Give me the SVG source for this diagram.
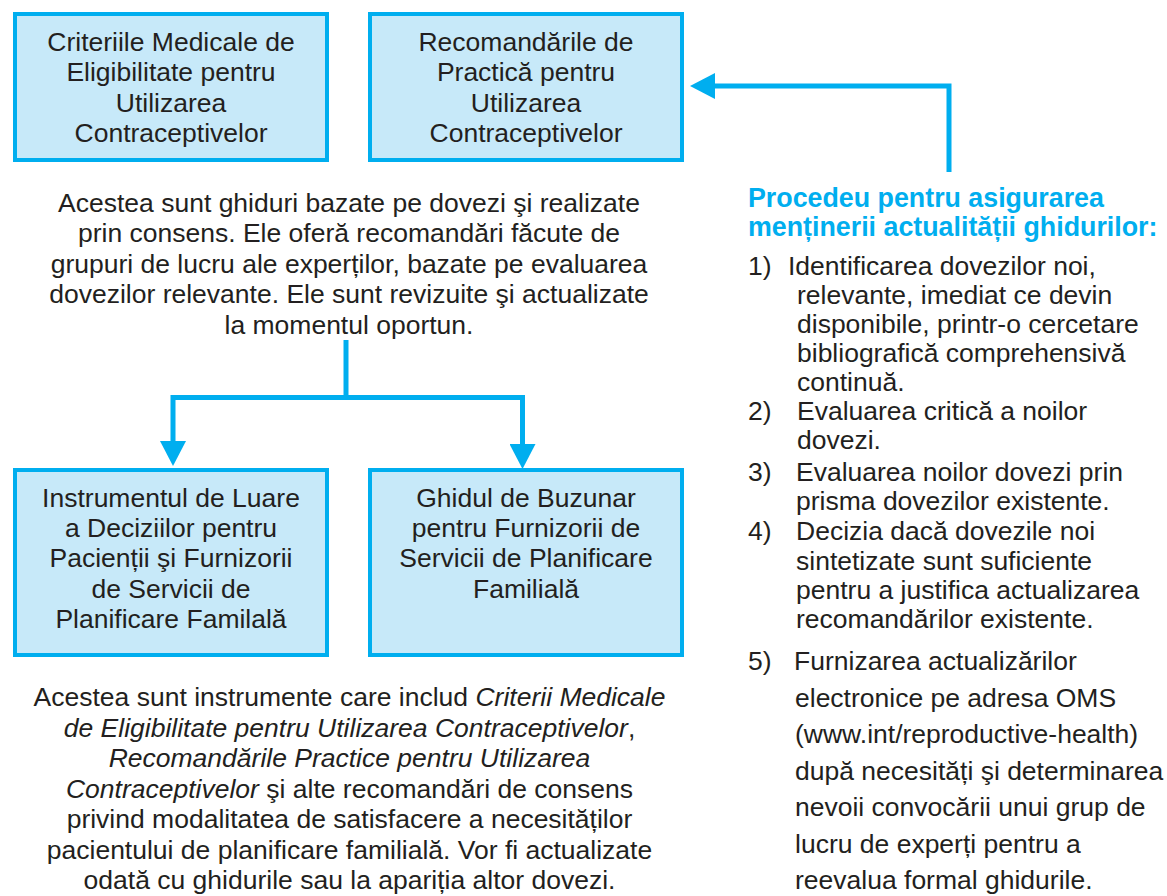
<svg xmlns="http://www.w3.org/2000/svg" width="1167" height="896" viewBox="0 0 1167 896">
<style>
.box{fill:#C7E9F9;stroke:#00AEEF;stroke-width:4}
.t{font-family:"Liberation Sans",Arial,sans-serif;font-size:26.5px;fill:#231F20}
.c{text-anchor:middle}
.i{font-style:italic}
.h{font-family:"Liberation Sans",Arial,sans-serif;font-size:26.8px;font-weight:bold;fill:#00AEEF}
.ln{fill:none;stroke:#00AEEF;stroke-width:5;stroke-linejoin:miter;stroke-linecap:butt}
</style>
<defs>
<marker id="ah" viewBox="0 0 25 26" refX="0" refY="13" markerWidth="25" markerHeight="26" markerUnits="userSpaceOnUse" orient="auto">
<path d="M0,0 L25,13 L0,26 z" fill="#00AEEF"/>
</marker>
</defs>
<g id="connectors">
<path class="ln" d="M949,172 V86 H715" marker-end="url(#ah)"/>
<path class="ln" d="M346,340 V397.5"/>
<path class="ln" d="M346,397.5 H173 V441" marker-end="url(#ah)"/>
<path class="ln" d="M346,397.5 H522.5 V444" marker-end="url(#ah)"/>
</g>
<g id="box-criterii">
<rect class="box" x="15" y="14" width="312" height="146"/>
<text class="t c" x="171" y="51">Criteriile Medicale de</text>
<text class="t c" x="171" y="81">Eligibilitate pentru</text>
<text class="t c" x="171" y="112">Utilizarea</text>
<text class="t c" x="171" y="142">Contraceptivelor</text>
</g>
<g id="box-recomandari">
<rect class="box" x="370" y="14" width="312" height="146"/>
<text class="t c" x="526" y="51">Recomandările de</text>
<text class="t c" x="526" y="81">Practică pentru</text>
<text class="t c" x="526" y="112">Utilizarea</text>
<text class="t c" x="526" y="142">Contraceptivelor</text>
</g>
<g id="text-ghiduri">
<text class="t c" x="349" y="212">Acestea sunt ghiduri bazate pe dovezi şi realizate</text>
<text class="t c" x="349" y="242">prin consens. Ele oferă recomandări făcute de</text>
<text class="t c" x="349" y="273">grupuri de lucru ale experților, bazate pe evaluarea</text>
<text class="t c" x="349" y="303">dovezilor relevante. Ele sunt revizuite şi actualizate</text>
<text class="t c" x="349" y="334">la momentul oportun.</text>
</g>
<g id="box-instrument">
<rect class="box" x="15" y="470" width="312" height="185"/>
<text class="t c" x="171" y="507">Instrumentul de Luare</text>
<text class="t c" x="171" y="537">a Deciziilor pentru</text>
<text class="t c" x="171" y="567">Pacienții şi Furnizorii</text>
<text class="t c" x="171" y="598">de Servicii de</text>
<text class="t c" x="171" y="628">Planificare Familală</text>
</g>
<g id="box-ghidul">
<rect class="box" x="370" y="470" width="312" height="185"/>
<text class="t c" x="526" y="507">Ghidul de Buzunar</text>
<text class="t c" x="526" y="537">pentru Furnizorii de</text>
<text class="t c" x="526" y="567">Servicii de Planificare</text>
<text class="t c" x="526" y="598">Familială</text>
</g>
<g id="text-instrumente">
<text class="t c" x="349.5" y="706">Acestea sunt instrumente care includ <tspan class="i">Criterii Medicale</tspan></text>
<text class="t c" x="349.5" y="736.5"><tspan class="i">de Eligibilitate pentru Utilizarea Contraceptivelor</tspan>,</text>
<text class="t c i" x="349.5" y="767">Recomandările Practice pentru Utilizarea</text>
<text class="t c" x="349.5" y="797.5"><tspan class="i">Contraceptivelor</tspan> şi alte recomandări de consens</text>
<text class="t c" x="349.5" y="828">privind modalitatea de satisfacere a necesităților</text>
<text class="t c" x="349.5" y="858.5">pacientului de planificare familială. Vor fi actualizate</text>
<text class="t c" x="349.5" y="889">odată cu ghidurile sau la apariția altor dovezi.</text>
</g>
<g id="procedeu">
<text class="h" x="748" y="207">Procedeu pentru asigurarea</text>
<text class="h" x="748" y="236">menținerii actualității ghidurilor:</text>
<text class="t" x="748" y="275">1)</text>
<text class="t" x="788" y="275">Identificarea dovezilor noi,</text>
<text class="t" x="797" y="304">relevante, imediat ce devin</text>
<text class="t" x="797" y="333">disponibile, printr-o cercetare</text>
<text class="t" x="797" y="362">bibliografică comprehensivă</text>
<text class="t" x="797" y="391">continuă.</text>
<text class="t" x="748" y="420">2)</text>
<text class="t" x="797" y="420">Evaluarea critică a noilor</text>
<text class="t" x="797" y="449">dovezi.</text>
<text class="t" x="748" y="481">3)</text>
<text class="t" x="796" y="481">Evaluarea noilor dovezi prin</text>
<text class="t" x="796" y="510">prisma dovezilor existente.</text>
<text class="t" x="748" y="540">4)</text>
<text class="t" x="796" y="540">Decizia dacă dovezile noi</text>
<text class="t" x="796" y="569.5">sintetizate sunt suficiente</text>
<text class="t" x="796" y="599">pentru a justifica actualizarea</text>
<text class="t" x="796" y="628">recomandărilor existente.</text>
<text class="t" x="748" y="670">5)</text>
<text class="t" x="794" y="670">Furnizarea actualizărilor</text>
<text class="t" x="795" y="706.5">electronice pe adresa OMS</text>
<text class="t" x="795" y="743">(www.int/reproductive-health)</text>
<text class="t" x="795" y="779.5">după necesități şi determinarea</text>
<text class="t" x="795" y="816">nevoii convocării unui grup de</text>
<text class="t" x="795" y="852.5">lucru de experți pentru a</text>
<text class="t" x="795" y="889">reevalua formal ghidurile.</text>
</g>
</svg>
